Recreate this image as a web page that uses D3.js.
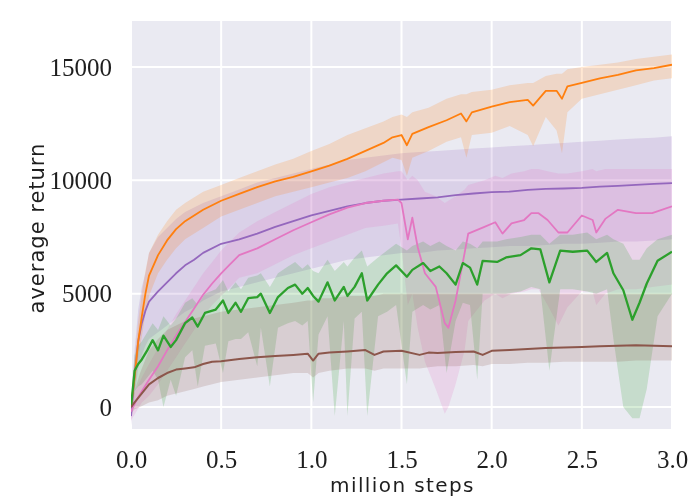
<!DOCTYPE html>
<html>
<head>
<meta charset="utf-8">
<script src="https://cdn.jsdelivr.net/npm/d3@7"></script>
<style>
  html, body { margin: 0; padding: 0; background: #ffffff; }
  svg { display: block; filter: blur(0.5px); }
</style>
</head>
<body>
<div id="chart"></div>
<script>
// ---------- data ----------
const xTicks = [0, 0.5, 1.0, 1.5, 2.0, 2.5, 3.0];
const xTickLabels = ["0.0", "0.5", "1.0", "1.5", "2.0", "2.5", "3.0"];
const yTicks = [0, 5000, 10000, 15000];
const yTickLabels = ["0", "5000", "10000", "15000"];
const xLabel = "million steps";
const yLabel = "average return";

const orangeX = [0,0.02,0.04,0.06,0.08,0.1,0.15,0.2,0.25,0.3,0.4,0.5,0.6,0.7,0.8,0.9,1.0,1.1,1.2,1.3,1.4,1.45,1.5,1.53,1.56,1.65,1.75,1.83,1.86,1.89,2.0,2.1,2.2,2.23,2.3,2.36,2.39,2.42,2.5,2.6,2.7,2.8,2.9,3.0];
const orangeMean = [0,1300,2900,4000,5000,5800,6700,7350,7850,8200,8700,9100,9400,9700,9950,10150,10400,10650,10950,11300,11650,11900,12000,11550,12050,12350,12650,12950,12600,13000,13250,13450,13550,13300,13950,13950,13600,14150,14300,14500,14650,14850,14950,15100];
const orangeLow = [-300,700,2200,3100,4100,4900,5900,6500,7000,7400,7900,8400,8700,9000,9300,9500,9700,9900,10100,10400,10800,11000,10900,10200,11000,11300,11700,11900,11000,12000,12100,12400,12000,11500,12800,12200,11200,13000,13600,13800,14000,14200,14400,14500];
const orangeHigh = [300,2100,3800,5000,6000,6800,7600,8200,8700,9000,9500,9800,10100,10400,10700,10950,11300,11600,12000,12300,12600,12800,12900,12800,13000,13200,13600,13800,13800,13900,14000,14200,14300,14300,14600,14700,14700,14900,15000,15100,15200,15350,15450,15550];

const purpleX = [0,0.02,0.04,0.06,0.08,0.1,0.15,0.2,0.25,0.3,0.35,0.4,0.5,0.6,0.7,0.8,0.9,1.0,1.1,1.2,1.3,1.4,1.5,1.6,1.7,1.8,1.9,2.0,2.1,2.2,2.3,2.4,2.5,2.6,2.7,2.8,2.9,3.0];
const purpleMean = [-400,1400,2900,3700,4250,4650,5100,5500,5900,6250,6500,6800,7200,7400,7650,7950,8200,8450,8650,8850,9000,9100,9150,9200,9250,9350,9420,9480,9500,9580,9620,9640,9670,9720,9760,9800,9840,9880];
const purpleLow = [-800,500,1700,2300,2700,3000,3300,3600,3900,4200,4400,4700,5100,5300,5500,5700,5900,6100,6300,6500,6600,6700,6800,6800,6900,6950,7000,7050,7100,7100,7150,7200,7200,7250,7300,7300,7350,7400];
const purpleHigh = [0,2500,4300,5300,5900,6800,7500,7900,8300,8600,8800,9000,9300,9600,9900,10100,10300,10500,10700,10900,11000,11100,11200,11250,11300,11350,11400,11450,11500,11550,11600,11650,11700,11750,11800,11850,11880,11950];

const pinkX = [0,0.03,0.06,0.1,0.15,0.2,0.25,0.3,0.35,0.4,0.45,0.5,0.55,0.6,0.7,0.8,0.9,1.0,1.1,1.2,1.3,1.4,1.48,1.5,1.535,1.56,1.59,1.63,1.69,1.74,1.76,1.8,1.85,1.87,1.96,2.02,2.06,2.11,2.18,2.22,2.26,2.31,2.37,2.42,2.5,2.56,2.58,2.63,2.7,2.8,2.89,3.0];
const pinkMean = [-200,300,700,1200,1800,2500,3150,3750,4350,4950,5450,5900,6300,6700,7000,7400,7800,8150,8500,8800,9000,9100,9150,9000,7400,8350,7050,5900,5300,3700,3500,4700,6800,7650,7950,8150,7650,8100,8250,8550,8550,8250,7700,7700,8450,8250,7700,8300,8700,8550,8550,8850];
const pinkLow = [-600,-200,200,500,1000,1600,2200,2800,3400,4000,4500,4900,5300,5700,5900,6300,6700,7000,7300,7600,7900,8000,8100,7000,4500,5000,3500,2000,800,-300,0,1000,2500,3800,4700,5000,4800,5000,5100,5200,5200,4500,3600,4400,5100,5100,4500,5000,5200,5200,5300,5400];
const pinkHigh = [200,800,1300,1900,2600,3400,4100,4700,5300,5900,6400,6900,7300,7700,8200,8600,9000,9400,9700,9900,10100,10300,10400,10400,10000,10200,10000,9500,9300,9000,9100,9300,9600,9800,10000,10200,10100,10300,10400,10500,10500,10400,10300,10300,10400,10500,10400,10500,10500,10500,10500,10500];

const greenX = [0,0.02,0.04,0.06,0.09,0.12,0.15,0.18,0.22,0.25,0.3,0.34,0.37,0.41,0.47,0.51,0.54,0.58,0.61,0.65,0.7,0.72,0.77,0.815,0.87,0.91,0.95,0.98,1.01,1.04,1.09,1.13,1.18,1.2,1.24,1.28,1.31,1.37,1.42,1.47,1.53,1.56,1.62,1.66,1.71,1.75,1.8,1.84,1.88,1.92,1.95,2.03,2.08,2.16,2.22,2.27,2.32,2.38,2.45,2.53,2.58,2.64,2.675,2.73,2.78,2.82,2.86,2.92,3.0];
const greenMean = [0,1600,1900,2100,2500,2950,2500,3150,2650,2950,3700,3950,3550,4150,4300,4700,4150,4600,4200,4800,4850,5000,4150,4850,5250,5400,5000,5250,4900,4650,5500,4700,5300,4900,5300,5900,4700,5400,5900,6250,5750,6050,6350,6000,6200,5900,5400,6350,6150,5400,6450,6400,6600,6700,7000,6950,5500,6900,6850,6900,6400,6800,5900,5150,3850,4600,5450,6450,6850];
const greenLow = [-300,700,900,1000,1300,1600,1200,0,1200,500,2200,2500,900,2700,2800,1500,2900,3000,3000,3300,1800,3500,900,3500,3700,3800,3600,3800,200,3200,4000,-400,3800,-400,3900,4200,-400,4000,4200,4500,1000,4200,4500,4300,4500,1500,3800,4600,4500,1200,5000,5000,5000,5100,5300,5200,1600,5200,5200,5100,5000,5200,3000,0,-500,-500,800,4000,5000];
const greenHigh = [300,2300,2700,2900,3300,3700,3400,4000,3600,3900,4600,4800,4500,5000,5200,5600,5100,5500,5200,5700,5800,5900,5300,5900,6200,6400,6100,6300,6000,5900,6500,6000,6400,6200,6600,6900,6200,6600,6900,7200,6900,7100,7300,7100,7300,7100,6900,7300,7200,7000,7300,7300,7400,7500,7600,7600,7200,7600,7600,7700,7400,7600,7400,7200,6500,6500,7000,7400,7600];

const brownX = [0,0.02,0.05,0.1,0.15,0.2,0.25,0.3,0.35,0.4,0.45,0.5,0.6,0.7,0.8,0.9,0.98,1.01,1.04,1.1,1.2,1.3,1.35,1.4,1.5,1.6,1.65,1.7,1.8,1.9,1.95,2.0,2.1,2.2,2.3,2.4,2.5,2.6,2.7,2.8,2.9,3.0];
const brownMean = [0,200,500,1000,1280,1500,1650,1700,1750,1900,2000,2020,2120,2200,2250,2300,2350,2050,2350,2400,2450,2510,2300,2450,2480,2300,2400,2380,2430,2450,2300,2480,2520,2560,2600,2630,2650,2680,2700,2730,2700,2680];
const brownLow = [-300,-100,0,200,300,500,600,700,800,900,1000,1100,1200,1300,1400,1500,1500,1300,1500,1600,1700,1700,1600,1700,1700,1700,1750,1800,1800,1850,1800,1900,1900,1950,1950,2000,2000,2000,2000,2050,2050,2050];
const brownHigh = [300,700,1500,2500,3000,3400,3600,3800,3900,4000,4100,4200,4300,4400,4500,4600,4700,4700,4800,4800,4900,4900,4900,5000,5000,5000,5000,5000,5000,5000,5000,5000,5000,5000,5000,5000,5000,5000,5000,5000,5000,5000];

const seriesNames = ["purple", "orange", "pink", "green", "brown"];
const seriesColors = {orange: "#ff7f0e", purple: "#9467bd", pink: "#e377c2", green: "#2ca02c", brown: "#8c564b"};
const seriesWidths = {orange: 1.8, purple: 1.8, pink: 1.8, green: 2.3, brown: 2.0};

// ---------- build ----------
function zip(xs, m, lo, hi) { return xs.map((x, i) => ({x: x, m: m[i], lo: lo[i], hi: hi[i]})); }
const seriesData = {
  orange: zip(orangeX, orangeMean, orangeLow, orangeHigh),
  purple: zip(purpleX, purpleMean, purpleLow, purpleHigh),
  pink: zip(pinkX, pinkMean, pinkLow, pinkHigh),
  green: zip(greenX, greenMean, greenLow, greenHigh),
  brown: zip(brownX, brownMean, brownLow, brownHigh)
};

const W = 697, H = 501;
const plot = {left: 131, right: 672, top: 21, bottom: 429};

const x = d3.scaleLinear().domain([0, 3]).range([plot.left, plot.right]);
const y = d3.scaleLinear().domain([-970, 17030]).range([plot.bottom, plot.top]);

const svg = d3.select("#chart").append("svg").attr("width", W).attr("height", H);

svg.append("rect")
  .attr("x", plot.left).attr("y", plot.top)
  .attr("width", plot.right - plot.left).attr("height", plot.bottom - plot.top)
  .attr("fill", "#EAEAF2");

svg.append("clipPath").attr("id", "clip").append("rect")
  .attr("x", plot.left).attr("y", plot.top)
  .attr("width", plot.right - plot.left).attr("height", plot.bottom - plot.top);

// grid
const grid = svg.append("g");
grid.selectAll("line.gx").data(xTicks).enter().append("line")
  .attr("x1", d => x(d)).attr("x2", d => x(d))
  .attr("y1", plot.top).attr("y2", plot.bottom)
  .attr("stroke", "#ffffff").attr("stroke-width", 2);
grid.selectAll("line.gy").data(yTicks).enter().append("line")
  .attr("x1", plot.left).attr("x2", plot.right)
  .attr("y1", d => y(d)).attr("y2", d => y(d))
  .attr("stroke", "#ffffff").attr("stroke-width", 2);

const g = svg.append("g").attr("clip-path", "url(#clip)");

const area = d3.area().x(d => x(d.x)).y0(d => y(d.lo)).y1(d => y(d.hi));
const line = d3.line().x(d => x(d.x)).y(d => y(d.m));

seriesNames.forEach(name => {
  g.append("path").datum(seriesData[name])
    .attr("d", area)
    .attr("fill", seriesColors[name])
    .attr("fill-opacity", 0.19)
    .attr("stroke", "none");
});
seriesNames.forEach(name => {
  g.append("path").datum(seriesData[name])
    .attr("d", line)
    .attr("fill", "none")
    .attr("stroke", seriesColors[name])
    .attr("stroke-width", seriesWidths[name])
    .attr("stroke-linejoin", "round");
});

// axes
const xAxis = d3.axisBottom(x).tickValues(xTicks).tickSize(0).tickPadding(21)
  .tickFormat((d, i) => xTickLabels[i]);
const yAxis = d3.axisLeft(y).tickValues(yTicks).tickSize(0).tickPadding(19)
  .tickFormat((d, i) => yTickLabels[i]);

const gx = svg.append("g").attr("transform", `translate(0,${plot.bottom})`).call(xAxis);
const gy = svg.append("g").attr("transform", `translate(${plot.left},0)`).call(yAxis);
[gx, gy].forEach(a => {
  a.select(".domain").remove();
  a.selectAll("text")
    .attr("font-family", "'Liberation Serif', 'DejaVu Serif', serif")
    .attr("font-size", 25)
    .attr("fill", "#1e1e1e");
});

svg.append("text")
  .attr("x", (plot.left + plot.right) / 2 + 1).attr("y", 492)
  .attr("text-anchor", "middle")
  .attr("font-family", "'DejaVu Sans', sans-serif")
  .attr("font-size", 20).attr("letter-spacing", 1.4)
  .attr("fill", "#1e1e1e")
  .text(xLabel);

svg.append("text")
  .attr("transform", `translate(44,${(plot.top + plot.bottom) / 2 + 3}) rotate(-90)`)
  .attr("text-anchor", "middle")
  .attr("font-family", "'DejaVu Sans', sans-serif")
  .attr("font-size", 21).attr("letter-spacing", 1.0)
  .attr("fill", "#1e1e1e")
  .text(yLabel);
</script>
</body>
</html>
